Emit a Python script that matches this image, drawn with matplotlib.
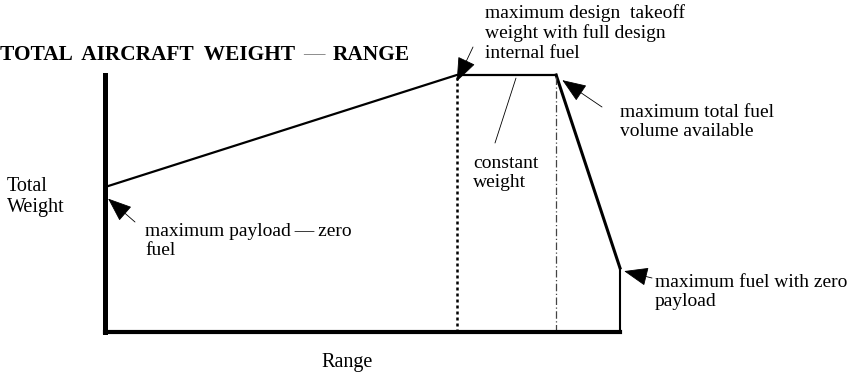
import matplotlib.pyplot as plt

# weight-range envelope, in percent of axis length
range_pts = [0, 68.3, 87.6, 100, 100]
weight_pts = [56.4, 100, 100, 24.9, 0]

title_parts = ["TOTAL  AIRCRAFT  WEIGHT", "\u2014", "RANGE"]
notes = [
    "maximum payload\u2009\u2014\u2009zero\nfuel",
    "maximum design  takeoff\nweight with full design\ninternal fuel",
    "maximum total fuel\nvolume available",
    "maximum fuel with zero\npayload",
]
const_note = "constant\nweight"

W, H = 849, 377
SERIF = ["Liberation Serif", "DejaVu Serif"]


def fig_xy(x, y):
    # pixel position (origin top-left) -> figure fraction
    return x / W, 1 - y / H


fig = plt.figure(figsize=(W / 100, H / 100), dpi=100)
ax = fig.add_axes([105 / W, 1 - 332 / H, 515 / W, 257 / H])
ax.set_xlim(0, 100)
ax.set_ylim(0, 100)
ax.set_xticks([])
ax.set_yticks([])
for s in ("top", "right"):
    ax.spines[s].set_visible(False)
ax.spines["left"].set_linewidth(3.6)
ax.spines["bottom"].set_linewidth(3.0)
ax.spines["left"].set_capstyle("projecting")

# envelope: climb, flat top, fuel-volume limit, zero payload drop
ax.plot(range_pts[:3], weight_pts[:3], color="black", lw=1.6, clip_on=False,
        solid_joinstyle="miter")
ax.plot(range_pts[2:4], weight_pts[2:4], color="black", lw=2.2, clip_on=False)
ax.plot(range_pts[3:], weight_pts[3:], color="black", lw=1.5, clip_on=False)

ax.plot([range_pts[1]] * 2, [0, weight_pts[1]], color="black", lw=1.8,
        ls=(0, (1.2, 1.2)), clip_on=False)
ax.plot([range_pts[2]] * 2, [0, weight_pts[2]], color="#444444", lw=0.9,
        ls=(0, (6, 2, 1, 2)), clip_on=False)

# title
fig.text(*fig_xy(0, 55), title_parts[0], family=SERIF, weight="bold",
         fontsize=15.4, va="center", ha="left")
fig.text(*fig_xy(314, 55), title_parts[1], family=SERIF, fontsize=15.4,
         va="center", ha="center", color="#777777")
fig.text(*fig_xy(333, 55), title_parts[2], family=SERIF, weight="bold",
         fontsize=15.4, va="center", ha="left")

fig.text(*fig_xy(7, 197), "Total\nWeight", family=SERIF, fontsize=14.5,
         va="center", ha="left", linespacing=1.2)
fig.text(*fig_xy(347, 363), "Range", family=SERIF, fontsize=14.5,
         va="center", ha="center")

arrow = dict(arrowstyle="-|>,head_length=0.9,head_width=0.35", lw=0.6,
             color="black", shrinkA=0, shrinkB=0, mutation_scale=17)
tails = [(135, 222), (473, 47), (602, 107), (652, 278)]
offs = [(0.6, -4.5), (0, -2.5), (1.2, -2.0), (0.8, -1.2)]
for i, (tail, off) in enumerate(zip(tails, offs)):
    ax.annotate("", xy=(range_pts[i] + off[0], weight_pts[i] + off[1]),
                xytext=fig_xy(*tail), textcoords="figure fraction",
                arrowprops=arrow, annotation_clip=False)

text_pos = [(145, 241), (485, 33), (620, 122), (655, 292)]
for txt, pos in zip(notes, text_pos):
    fig.text(*fig_xy(*pos), txt, family=SERIF, fontsize=14, va="center",
             ha="left", linespacing=1.18)

# leader for the constant weight segment
ax.annotate("", xy=(79.8, 98.8), xytext=fig_xy(495, 143),
            textcoords="figure fraction",
            arrowprops=dict(arrowstyle="-", lw=0.6, color="black",
                            shrinkA=0, shrinkB=0), annotation_clip=False)
fig.text(*fig_xy(473, 173), const_note, family=SERIF, fontsize=14,
         va="center", ha="left", linespacing=1.18)

fig.savefig("out.png", dpi=100)
